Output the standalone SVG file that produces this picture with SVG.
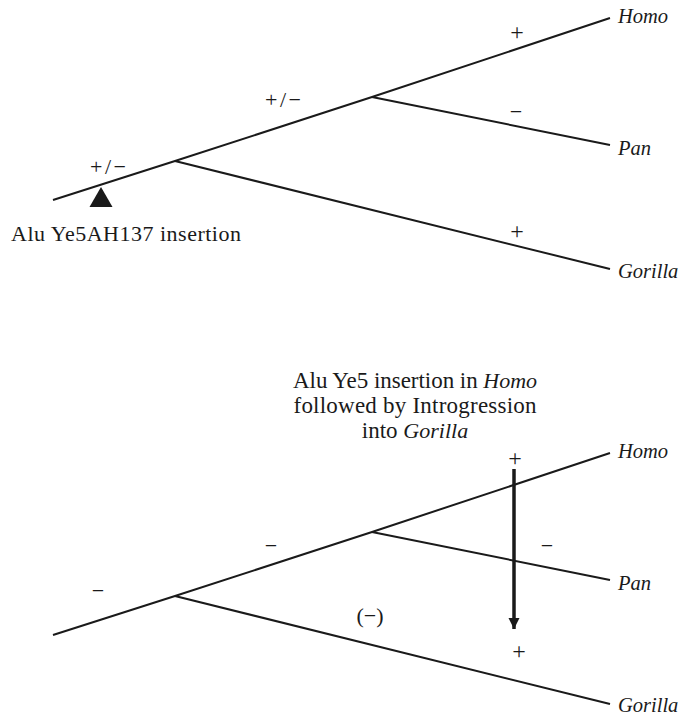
<svg xmlns="http://www.w3.org/2000/svg" width="681" height="716" viewBox="0 0 681 716">
<style>
.br{stroke:#1a1a1a;stroke-width:2;fill:none;stroke-linecap:butt}
.t{font-family:'Liberation Serif','Times New Roman',serif;font-size:22px;fill:#1a1a1a}
.ti{font-size:23px}
.sp{font-style:italic;font-size:20.5px}
.ti .sp{font-size:22px}
.pm{font-size:24px}
.m{text-anchor:middle}
</style>
<defs>
<marker id="ah" viewBox="0 0 10 10" refX="10" refY="5" markerWidth="3.2" markerHeight="3.6" orient="auto" markerUnits="strokeWidth">
<path d="M0,0 L10,5 L0,10 z" fill="#1a1a1a"/>
</marker>
</defs>
<g id="connectors">
<path class="br" d="M53,200 L175,161 L372,97 L610,18"/>
<path class="br" d="M372,97 L610,145"/>
<path class="br" d="M175,161 L610,269"/>
<path class="br" d="M53,635 L175,596 L372,532 L610,453"/>
<path class="br" d="M372,532 L610,580"/>
<path class="br" d="M175,596 L610,704"/>
<line x1="514" y1="469" x2="514" y2="629" stroke="#1a1a1a" stroke-width="3.5" marker-end="url(#ah)"/>
</g>
<g id="top-tree">
<polygon id="insertion-marker" points="101,187 89.5,207 112.5,207" fill="#1a1a1a"/>
<text class="t" x="11" y="241" textLength="230">Alu Ye5AH137 insertion</text>
<text class="t m" x="108" y="174" textLength="36">+/−</text>
<text class="t m" x="283" y="107" textLength="36">+/−</text>
<text class="t pm m" x="517" y="40">+</text>
<text class="t m" x="516" y="119">−</text>
<text class="t pm m" x="517" y="239">+</text>
<g id="homo1"><text class="t sp" x="618" y="23">Homo</text></g>
<g id="pan1"><text class="t sp" x="618" y="155">Pan</text></g>
<g id="gorilla1"><text class="t sp" x="618" y="278">Gorilla</text></g>
</g>
<g id="bottom-tree">
<text class="t ti m" x="415" y="388" textLength="244">Alu Ye5 insertion in <tspan class="sp">Homo</tspan></text>
<text class="t ti m" x="415" y="413" textLength="243">followed by Introgression</text>
<text class="t ti m" x="415" y="438">into <tspan class="sp">Gorilla</tspan></text>
<text class="t m" x="98" y="598">−</text>
<text class="t m" x="271" y="553">−</text>
<text class="t pm m" x="515" y="466">+</text>
<text class="t m" x="547" y="553">−</text>
<text class="t m" x="370" y="623">(−)</text>
<text class="t pm m" x="519" y="659">+</text>
<g id="homo2"><text class="t sp" x="618" y="458">Homo</text></g>
<g id="pan2"><text class="t sp" x="618" y="590">Pan</text></g>
<g id="gorilla2"><text class="t sp" x="618" y="712">Gorilla</text></g>
</g>
</svg>
